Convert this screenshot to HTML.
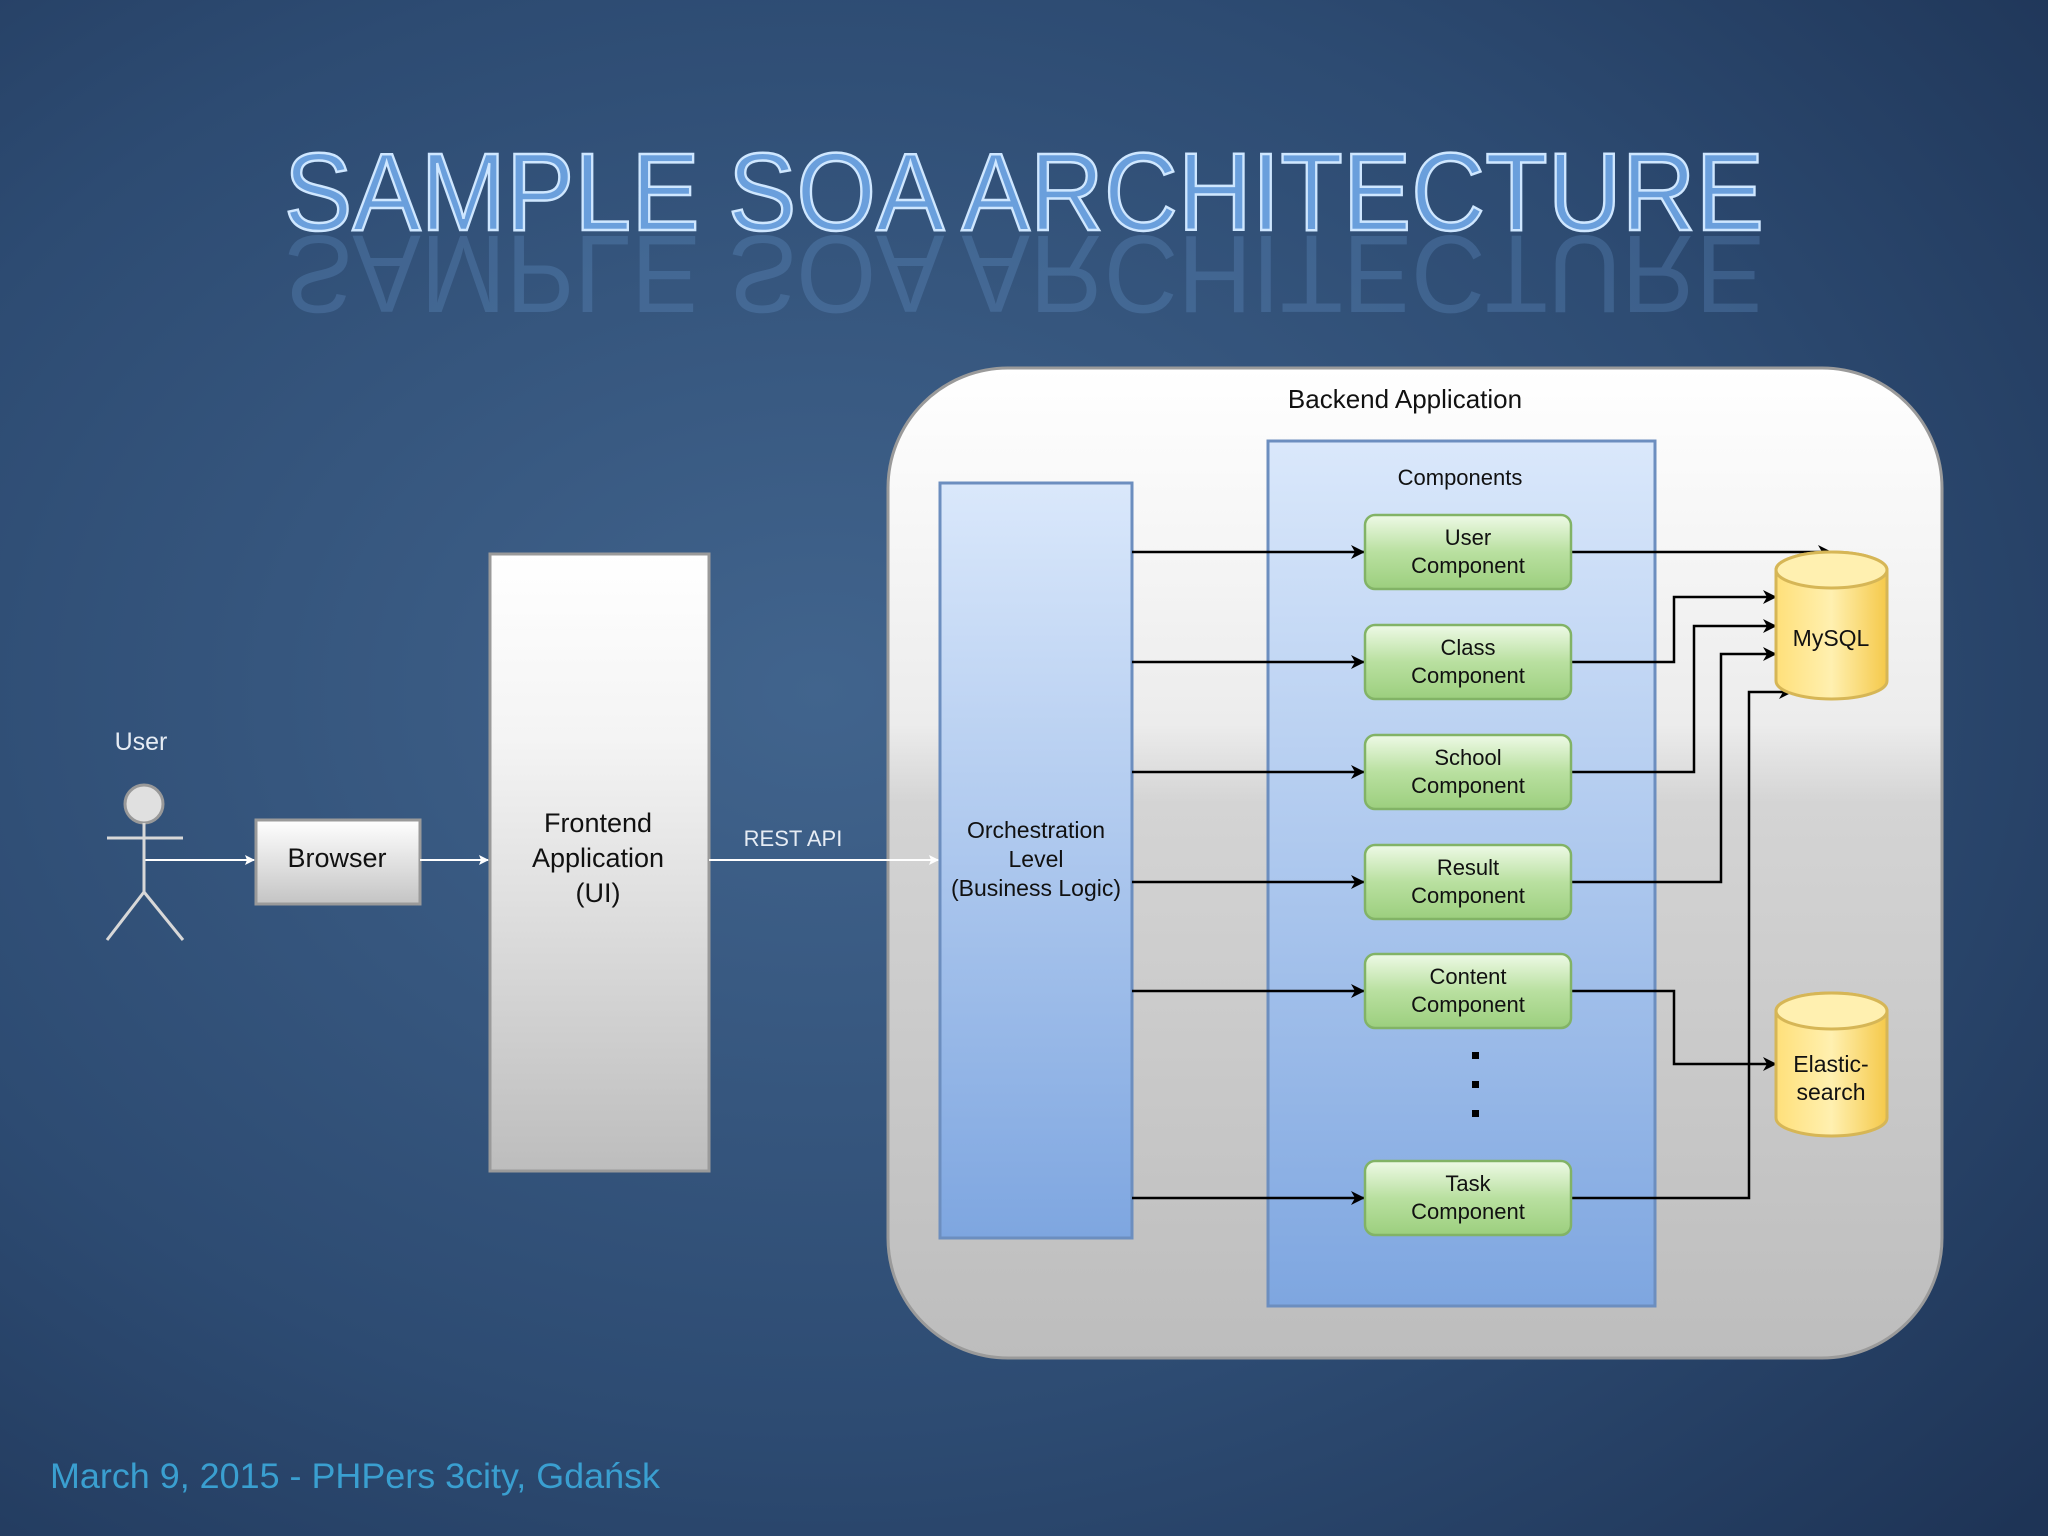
<!DOCTYPE html>
<html><head><meta charset="utf-8"><style>
html,body{margin:0;padding:0;width:2048px;height:1536px;overflow:hidden;background:#2a4466}
svg{display:block}
</style></head><body>
<svg width="2048" height="1536" viewBox="0 0 2048 1536" xmlns="http://www.w3.org/2000/svg" font-family="Liberation Sans, sans-serif">
<defs>
<radialGradient id="bg" cx="0.4" cy="0.45" r="0.8">
<stop offset="0" stop-color="#41648d"/><stop offset="0.6" stop-color="#2d4b72"/><stop offset="1" stop-color="#1e3456"/>
</radialGradient>
<linearGradient id="be" x1="0" y1="0" x2="0" y2="1">
<stop offset="0" stop-color="#ffffff"/><stop offset="0.36" stop-color="#ececec"/><stop offset="0.44" stop-color="#d4d4d4"/><stop offset="1" stop-color="#bdbdbd"/>
</linearGradient>
<linearGradient id="fe" x1="0" y1="0" x2="0" y2="1">
<stop offset="0" stop-color="#ffffff"/><stop offset="0.3" stop-color="#f4f4f4"/><stop offset="1" stop-color="#bdbdbd"/>
</linearGradient>
<linearGradient id="br" x1="0" y1="0" x2="0" y2="1">
<stop offset="0" stop-color="#ffffff"/><stop offset="1" stop-color="#c4c4c4"/>
</linearGradient>
<linearGradient id="bl" x1="0" y1="0" x2="0" y2="1">
<stop offset="0" stop-color="#dae8fb"/><stop offset="1" stop-color="#7ea6e0"/>
</linearGradient>
<linearGradient id="gr" x1="0" y1="0" x2="0" y2="1">
<stop offset="0" stop-color="#eefae6"/><stop offset="0.5" stop-color="#b9e0a0"/><stop offset="1" stop-color="#9ccf7e"/>
</linearGradient>
<linearGradient id="yl" x1="0" y1="0" x2="1" y2="0">
<stop offset="0" stop-color="#ffe07a"/><stop offset="0.5" stop-color="#fff0b0"/><stop offset="1" stop-color="#f5c94a"/>
</linearGradient>
<marker id="ab" markerWidth="14" markerHeight="14" refX="13" refY="7" orient="auto" markerUnits="userSpaceOnUse"><path d="M0,0 L14,7 L0,14 L4,7 z" fill="#000"/></marker>
<marker id="aw" markerWidth="10" markerHeight="10" refX="9" refY="5" orient="auto" markerUnits="userSpaceOnUse"><path d="M0,0 L10,5 L0,10 L2,5 z" fill="#fff"/></marker>
<linearGradient id="rf" x1="0" y1="0" x2="0" y2="1"><stop offset="0" stop-color="#6fa0d8" stop-opacity="0.45"/><stop offset="1" stop-color="#6fa0d8" stop-opacity="0"/></linearGradient>
</defs>
<rect width="2048" height="1536" fill="url(#bg)"/>

<!-- title -->
<g transform="translate(0,466) scale(1,-1)"><text x="1024" y="230" text-anchor="middle" font-size="110" textLength="1480" lengthAdjust="spacingAndGlyphs" fill="#6fa0d8" opacity="0.25">SAMPLE SOA ARCHITECTURE</text></g>
<text x="1024" y="230" text-anchor="middle" font-size="110" textLength="1480" lengthAdjust="spacingAndGlyphs" fill="#6a9fdc" stroke="#cfe7ff" stroke-width="2.5">SAMPLE SOA ARCHITECTURE</text>

<!-- backend -->
<rect x="888" y="368" width="1054" height="990" rx="120" fill="url(#be)" stroke="#9a9a9a" stroke-width="3"/>
<text x="1405" y="408" text-anchor="middle" font-size="26" fill="#111">Backend Application</text>
<rect x="1268" y="441" width="387" height="865" fill="url(#bl)" stroke="#6c8ebf" stroke-width="3"/>
<text x="1460" y="485" text-anchor="middle" font-size="22" fill="#111">Components</text>
<rect x="940" y="483" width="192" height="755" fill="url(#bl)" stroke="#6c8ebf" stroke-width="3"/>
<text x="1036" y="838" text-anchor="middle" font-size="23" fill="#111">Orchestration</text>
<text x="1036" y="867" text-anchor="middle" font-size="23" fill="#111">Level</text>
<text x="1036" y="896" text-anchor="middle" font-size="23" fill="#111">(Business Logic)</text>

<g stroke="#000" stroke-width="2.5" fill="none">
<line x1="1132" y1="552" x2="1364" y2="552" marker-end="url(#ab)"/>
<line x1="1132" y1="662" x2="1364" y2="662" marker-end="url(#ab)"/>
<line x1="1132" y1="772" x2="1364" y2="772" marker-end="url(#ab)"/>
<line x1="1132" y1="882" x2="1364" y2="882" marker-end="url(#ab)"/>
<line x1="1132" y1="991" x2="1364" y2="991" marker-end="url(#ab)"/>
<line x1="1132" y1="1198" x2="1364" y2="1198" marker-end="url(#ab)"/>
<polyline points="1571,552 1831,552" marker-end="url(#ab)"/>
<polyline points="1571,662 1674,662 1674,597 1776,597" marker-end="url(#ab)"/>
<polyline points="1571,772 1694,772 1694,626 1776,626" marker-end="url(#ab)"/>
<polyline points="1571,882 1721,882 1721,654 1776,654" marker-end="url(#ab)"/>
<polyline points="1571,1198 1749,1198 1749,692 1792,692" marker-end="url(#ab)"/>
<polyline points="1571,991 1674,991 1674,1064 1776,1064" marker-end="url(#ab)"/>
</g>

<g font-size="22" fill="#111" text-anchor="middle">
<g><rect x="1365" y="515" width="206" height="74" rx="10" fill="url(#gr)" stroke="#82b366" stroke-width="2.5"/><text x="1468" y="545">User</text><text x="1468" y="573">Component</text></g>
<g><rect x="1365" y="625" width="206" height="74" rx="10" fill="url(#gr)" stroke="#82b366" stroke-width="2.5"/><text x="1468" y="655">Class</text><text x="1468" y="683">Component</text></g>
<g><rect x="1365" y="735" width="206" height="74" rx="10" fill="url(#gr)" stroke="#82b366" stroke-width="2.5"/><text x="1468" y="765">School</text><text x="1468" y="793">Component</text></g>
<g><rect x="1365" y="845" width="206" height="74" rx="10" fill="url(#gr)" stroke="#82b366" stroke-width="2.5"/><text x="1468" y="875">Result</text><text x="1468" y="903">Component</text></g>
<g><rect x="1365" y="954" width="206" height="74" rx="10" fill="url(#gr)" stroke="#82b366" stroke-width="2.5"/><text x="1468" y="984">Content</text><text x="1468" y="1012">Component</text></g>
<g><rect x="1365" y="1161" width="206" height="74" rx="10" fill="url(#gr)" stroke="#82b366" stroke-width="2.5"/><text x="1468" y="1191">Task</text><text x="1468" y="1219">Component</text></g>
</g>
<g fill="#000"><rect x="1472" y="1052" width="7" height="7"/><rect x="1472" y="1081" width="7" height="7"/><rect x="1472" y="1110" width="7" height="7"/></g>

<!-- cylinders -->
<g stroke="#d6b656" stroke-width="3">
<path d="M1776,570 L1776,681 A55.5,18 0 0 0 1887,681 L1887,570 A55.5,18 0 0 0 1776,570 z" fill="url(#yl)"/>
<ellipse cx="1831.5" cy="570" rx="55.5" ry="18" fill="#fff0b0"/>
<path d="M1776,1011 L1776,1118 A55.5,18 0 0 0 1887,1118 L1887,1011 A55.5,18 0 0 0 1776,1011 z" fill="url(#yl)"/>
<ellipse cx="1831.5" cy="1011" rx="55.5" ry="18" fill="#fff0b0"/>
</g>
<text x="1831" y="646" text-anchor="middle" font-size="23" fill="#111">MySQL</text>
<text x="1831" y="1072" text-anchor="middle" font-size="23" fill="#111">Elastic-</text>
<text x="1831" y="1100" text-anchor="middle" font-size="23" fill="#111">search</text>

<!-- frontend -->
<rect x="490" y="554" width="219" height="617" fill="url(#fe)" stroke="#9a9a9a" stroke-width="3"/>
<text x="598" y="832" text-anchor="middle" font-size="27" fill="#111">Frontend</text>
<text x="598" y="867" text-anchor="middle" font-size="27" fill="#111">Application</text>
<text x="598" y="902" text-anchor="middle" font-size="27" fill="#111">(UI)</text>

<rect x="256" y="820" width="164" height="84" fill="url(#br)" stroke="#9a9a9a" stroke-width="3"/>
<text x="337" y="867" text-anchor="middle" font-size="27" fill="#111">Browser</text>

<g stroke="#fff" stroke-width="2" fill="none">
<line x1="144" y1="860" x2="254" y2="860" marker-end="url(#aw)"/>
<line x1="420" y1="860" x2="488" y2="860" marker-end="url(#aw)"/>
<line x1="709" y1="860" x2="938" y2="860" marker-end="url(#aw)"/>
</g>
<text x="793" y="846" text-anchor="middle" font-size="22" fill="#e6ecf4">REST API</text>

<!-- user -->
<text x="141" y="750" text-anchor="middle" font-size="25" fill="#e6ecf4">User</text>
<g stroke="#d8d8d8" stroke-width="3" fill="none">
<circle cx="144" cy="804" r="19" fill="#e0e0e0" stroke="#999"/>
<line x1="144" y1="823" x2="144" y2="892"/>
<line x1="107" y1="838" x2="183" y2="838"/>
<line x1="144" y1="892" x2="107" y2="940"/>
<line x1="144" y1="892" x2="183" y2="940"/>
</g>

<text x="50" y="1488" font-size="35" fill="#3a9fd0" textLength="610" lengthAdjust="spacingAndGlyphs">March 9, 2015 - PHPers 3city, Gdańsk</text>
</svg>
</body></html>
